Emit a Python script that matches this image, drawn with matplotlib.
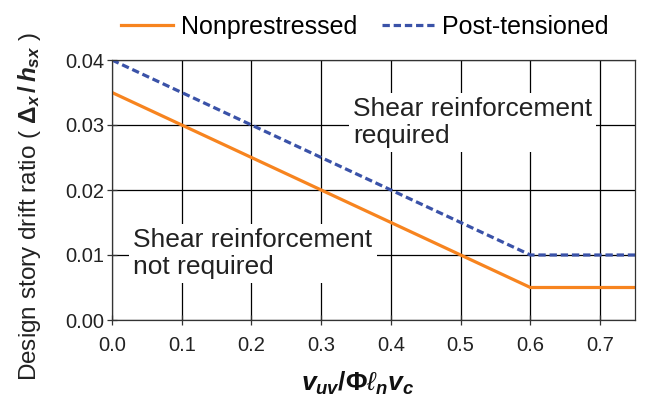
import matplotlib
matplotlib.use("Agg")
import matplotlib.pyplot as plt

plt.rcParams['font.family'] = ['Liberation Sans', 'DejaVu Sans']
plt.rcParams['mathtext.fontset'] = 'custom'
plt.rcParams['mathtext.it'] = 'Liberation Sans:italic:bold'
plt.rcParams['mathtext.rm'] = 'Liberation Sans:bold'
plt.rcParams['mathtext.bf'] = 'Liberation Sans:bold'
plt.rcParams['mathtext.sf'] = 'Liberation Sans:italic'

# data
shear_ratio = [0.0, 0.6, 0.75]
nonprestressed = [0.035, 0.005, 0.005]
post_tensioned = [0.04, 0.01, 0.01]
x_ticks = [0.0, 0.1, 0.2, 0.3, 0.4, 0.5, 0.6, 0.7]
y_ticks = [0.00, 0.01, 0.02, 0.03, 0.04]

fig = plt.figure(figsize=(6.49, 4.03), dpi=100)
ax = fig.add_axes([112 / 649, 1 - 320 / 403, 523 / 649, 260 / 403])

ax.plot(shear_ratio, nonprestressed, color='#F7841F', lw=2.3, label='Nonprestressed')
ax.plot(shear_ratio, post_tensioned, color='#3A52A8', lw=2.3, ls=(0, (2.3, 1.2)),
        label='Post-tensioned')

ax.set_xlim(0, 0.75)
ax.set_ylim(0, 0.04)
ax.set_xticks(x_ticks)
ax.set_yticks(y_ticks)
ax.set_xticklabels([f'{v:.1f}' for v in x_ticks])
ax.set_yticklabels([f'{v:.2f}' for v in y_ticks])
ax.tick_params(labelsize=14.5, length=7, width=0.9, direction='inout',
               color='#333333', labelcolor='#222222')
ax.tick_params(axis='x', pad=8)
ax.tick_params(axis='y', pad=2)
ax.grid(True, color='black', lw=0.9)
ax.set_axisbelow(True)
for s in ax.spines.values():
    s.set_linewidth(0.9)
    s.set_color('#333333')

ax.text(0.3456, 0.0343, 'Shear reinforcement\nrequired', fontsize=19,
        va='top', ha='left', linespacing=1.15, color='#222222',
        bbox=dict(facecolor='white', edgecolor='none', pad=3))
ax.text(0.0306, 0.0141, 'Shear reinforcement\nnot required', fontsize=19,
        va='top', ha='left', linespacing=1.15, color='#222222',
        bbox=dict(facecolor='white', edgecolor='none', pad=3))

ax.set_ylabel(r'Design story drift ratio ( $\Delta_x\,/\,h_{sx}$ )', fontsize=17.5,
              color='#222222')
ax.yaxis.set_label_coords(-0.132, 0.435)
ax.set_xlabel(r'$v_{uv}/\Phi\mathsf{\ell}_n v_c$', fontsize=19, color='#111111')
ax.xaxis.set_label_coords(0.47, -0.19)

fig.legend(loc='center', bbox_to_anchor=(364.5 / 649, 1 - 27 / 403), ncol=2,
           frameon=False, fontsize=18, handlelength=2.1, columnspacing=1.0,
           handletextpad=0.3, borderaxespad=0)

fig.savefig('out.png', dpi=100)
